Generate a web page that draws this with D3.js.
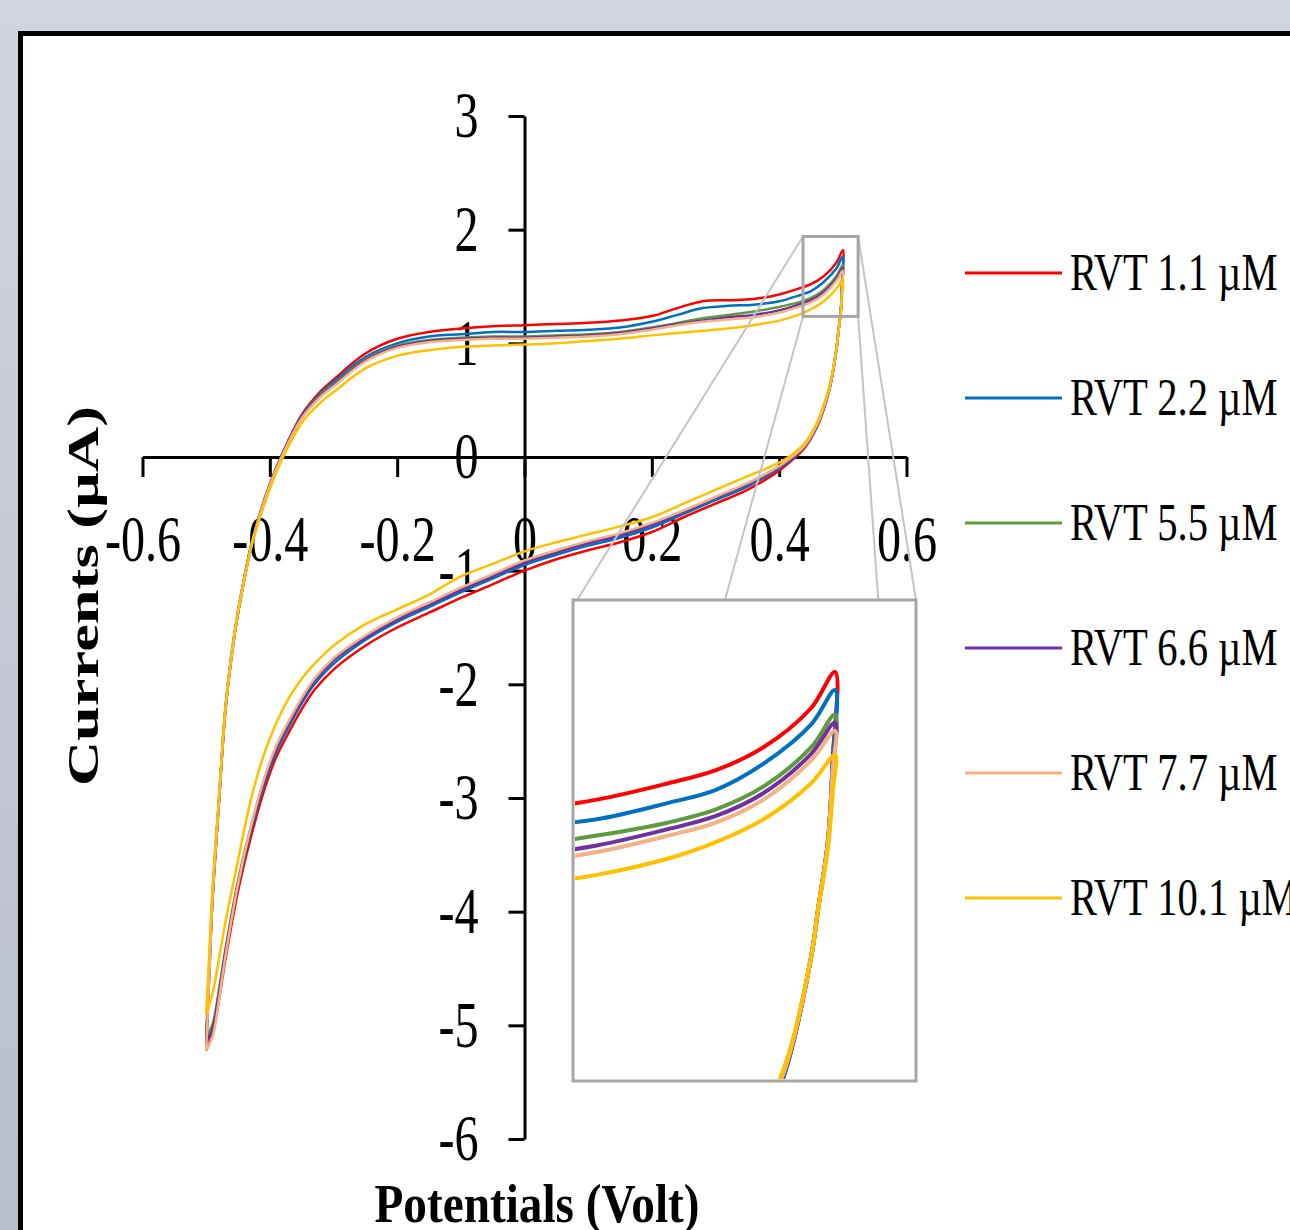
<!DOCTYPE html>
<html>
<head>
<meta charset="utf-8">
<script src="https://cdn.jsdelivr.net/npm/d3@7"></script>
<style>
html, body { margin: 0; padding: 0; overflow: hidden; background: #fff; }
svg { display: block; }
</style>
</head>
<body>
<svg id="chart" width="1290" height="1230"></svg>
<script>
// cyclic voltammograms of RVT

// potentials (V): forward sweep -0.5 -> 0.5, reverse sweep 0.5 -> -0.5
var potentialsFwd = [-0.50, -0.495, -0.49, -0.48, -0.47, -0.46, -0.45, -0.44, -0.43, -0.42,
  -0.40, -0.38, -0.35, -0.32, -0.30, -0.25, -0.20, -0.15, -0.10, -0.05,
  0, 0.05, 0.10, 0.15, 0.20, 0.24, 0.28, 0.32, 0.36, 0.40,
  0.43, 0.45, 0.47, 0.49, 0.50];
var potentialsRev = [0.499, 0.497, 0.493, 0.49, 0.48, 0.47, 0.46, 0.44, 0.42, 0.40,
  0.35, 0.30, 0.25, 0.20, 0.15, 0.10, 0.05, 0, -0.05, -0.10,
  -0.15, -0.20, -0.25, -0.30, -0.33, -0.35, -0.37, -0.39, -0.41, -0.43,
  -0.45, -0.47, -0.48, -0.49, -0.50];

// currents (uA)
var rvt11Fwd = [-5.22, -4.55, -3.90, -3.05, -2.25, -1.75, -1.38, -1.08, -0.81, -0.60,
  -0.26, 0.03, 0.37, 0.58, 0.68, 0.91, 1.04, 1.10, 1.13, 1.15,
  1.16, 1.17, 1.18, 1.20, 1.24, 1.31, 1.37, 1.38, 1.39, 1.43,
  1.48, 1.52, 1.59, 1.71, 1.82];
var rvt11Rev = [1.55, 1.30, 1.10, 0.95, 0.62, 0.42, 0.27, 0.08, -0.03, -0.12,
  -0.29, -0.41, -0.53, -0.66, -0.75, -0.82, -0.90, -1.00, -1.12, -1.24,
  -1.37, -1.50, -1.66, -1.87, -2.05, -2.22, -2.42, -2.64, -2.95, -3.35,
  -3.82, -4.43, -4.78, -5.08, -5.22];

var rvt22Fwd = [-5.15, -4.50, -3.88, -3.04, -2.24, -1.74, -1.37, -1.07, -0.80, -0.59,
  -0.25, 0.03, 0.36, 0.56, 0.66, 0.88, 1.00, 1.06, 1.08, 1.10,
  1.10, 1.11, 1.12, 1.14, 1.19, 1.25, 1.31, 1.33, 1.34, 1.37,
  1.42, 1.46, 1.54, 1.66, 1.765];
var rvt22Rev = [1.55, 1.30, 1.10, 0.95, 0.62, 0.43, 0.28, 0.09, -0.02, -0.10,
  -0.26, -0.38, -0.50, -0.62, -0.71, -0.78, -0.86, -0.95, -1.07, -1.19,
  -1.32, -1.45, -1.61, -1.82, -2.00, -2.17, -2.37, -2.59, -2.90, -3.30,
  -3.77, -4.38, -4.73, -5.03, -5.15];

var rvt55Fwd = [-5.10, -4.45, -3.85, -3.02, -2.22, -1.73, -1.36, -1.06, -0.79, -0.58,
  -0.24, 0.03, 0.35, 0.55, 0.64, 0.86, 0.98, 1.03, 1.05, 1.06,
  1.06, 1.07, 1.08, 1.10, 1.14, 1.18, 1.22, 1.25, 1.28, 1.32,
  1.36, 1.40, 1.47, 1.59, 1.69];
var rvt55Rev = [1.52, 1.30, 1.10, 0.95, 0.63, 0.44, 0.29, 0.10, -0.01, -0.09,
  -0.24, -0.36, -0.48, -0.59, -0.68, -0.75, -0.83, -0.92, -1.04, -1.16,
  -1.29, -1.42, -1.58, -1.78, -1.96, -2.13, -2.33, -2.55, -2.86, -3.26,
  -3.73, -4.34, -4.69, -4.99, -5.10];

var rvt66Fwd = [-5.15, -4.50, -3.86, -3.03, -2.23, -1.73, -1.36, -1.06, -0.79, -0.58,
  -0.24, 0.03, 0.35, 0.54, 0.63, 0.85, 0.97, 1.02, 1.04, 1.05,
  1.05, 1.06, 1.07, 1.09, 1.13, 1.17, 1.20, 1.23, 1.25, 1.29,
  1.34, 1.38, 1.45, 1.57, 1.665];
var rvt66Rev = [1.52, 1.30, 1.10, 0.95, 0.63, 0.44, 0.29, 0.10, -0.01, -0.09,
  -0.24, -0.36, -0.48, -0.60, -0.69, -0.76, -0.84, -0.93, -1.05, -1.17,
  -1.30, -1.43, -1.59, -1.79, -1.97, -2.14, -2.34, -2.56, -2.87, -3.27,
  -3.75, -4.36, -4.72, -5.03, -5.15];

var rvt77Fwd = [-5.22, -4.55, -3.88, -3.04, -2.24, -1.74, -1.37, -1.07, -0.80, -0.59,
  -0.25, 0.02, 0.34, 0.53, 0.62, 0.84, 0.96, 1.01, 1.03, 1.04,
  1.04, 1.05, 1.06, 1.08, 1.12, 1.16, 1.19, 1.21, 1.23, 1.27,
  1.32, 1.36, 1.43, 1.55, 1.64];
var rvt77Rev = [1.52, 1.30, 1.10, 0.95, 0.63, 0.44, 0.29, 0.10, 0.00, -0.08,
  -0.23, -0.35, -0.47, -0.58, -0.67, -0.74, -0.82, -0.91, -1.03, -1.15,
  -1.28, -1.41, -1.57, -1.77, -1.95, -2.12, -2.32, -2.54, -2.85, -3.26,
  -3.76, -4.40, -4.78, -5.10, -5.22];

var rvt101Fwd = [-4.90, -4.35, -3.80, -3.00, -2.22, -1.73, -1.36, -1.07, -0.81, -0.61,
  -0.28, -0.01, 0.30, 0.48, 0.57, 0.78, 0.89, 0.94, 0.97, 0.98,
  0.99, 1.00, 1.02, 1.04, 1.07, 1.09, 1.11, 1.13, 1.16, 1.20,
  1.25, 1.30, 1.37, 1.48, 1.566];
var rvt101Rev = [1.45, 1.28, 1.10, 0.95, 0.64, 0.46, 0.31, 0.12, 0.02, -0.05,
  -0.17, -0.29, -0.41, -0.53, -0.61, -0.68, -0.75, -0.83, -0.94, -1.05,
  -1.21, -1.34, -1.47, -1.66, -1.82, -1.95, -2.12, -2.34, -2.63, -3.02,
  -3.55, -4.10, -4.42, -4.72, -4.90];

var legendLabels = ['RVT 1.1 \u00b5M', 'RVT 2.2 \u00b5M', 'RVT 5.5 \u00b5M', 'RVT 6.6 \u00b5M', 'RVT 7.7 \u00b5M', 'RVT 10.1 \u00b5M'];
var fwdCurrents = [rvt11Fwd, rvt22Fwd, rvt55Fwd, rvt66Fwd, rvt77Fwd, rvt101Fwd];
var revCurrents = [rvt11Rev, rvt22Rev, rvt55Rev, rvt66Rev, rvt77Rev, rvt101Rev];
var colors = ['#ff0000', '#0070c0', '#5e9b3e', '#7030a0', '#f4b183', '#ffc000'];

var xTicks = [-0.6, -0.4, -0.2, 0, 0.2, 0.4, 0.6];
var xTickLabels = ['-0.6', '-0.4', '-0.2', '0', '0.2', '0.4', '0.6'];
var yTicks = [3, 2, 1, 0, -1, -2, -3, -4, -5, -6];
var yTickLabels = ['3', '2', '1', '0', '-1', '-2', '-3', '-4', '-5', '-6'];

// zoom window marked on the main plot, and the range shown in the inset
var zoomWinX = [0.4375, 0.524];
var zoomWinY = [1.237, 1.94];
var insetDomX = [0.39, 0.534];
var insetDomY = [0.57, 2.04];

var serif = "'Liberation Serif', 'Times New Roman', serif";

var svg = d3.select('#chart');
var width = +svg.attr('width');
var height = +svg.attr('height');

// background and frame
var defs = svg.append('defs');
var grad = defs.append('linearGradient').attr('id', 'bg')
  .attr('x1', 0).attr('y1', 0).attr('x2', 0).attr('y2', 1);
grad.append('stop').attr('offset', '0%').attr('stop-color', '#d0d5de');
grad.append('stop').attr('offset', '100%').attr('stop-color', '#b7bfcb');
svg.append('rect').attr('width', width).attr('height', height).attr('fill', 'url(#bg)');
svg.append('rect')
  .attr('x', 20.5).attr('y', 33.5)
  .attr('width', 1400).attr('height', 1400)
  .attr('fill', '#fff').attr('stroke', '#000').attr('stroke-width', 5);

var xScale = d3.scaleLinear().domain([-0.6, 0.6]).range([142.5, 906.5]);
var yScale = d3.scaleLinear().domain([-6, 3]).range([1139, 116]);

var series = legendLabels.map(function(name, i){
  var pts = potentialsFwd.map(function(e, j){ return [e, fwdCurrents[i][j]]; })
    .concat(potentialsRev.map(function(e, j){ return [e, revCurrents[i][j]]; }));
  return { name: name, color: colors[i], points: pts };
});

// squeeze text horizontally like the stretched original
function squeeze(sel, k){
  sel.each(function(){
    var w = this.getComputedTextLength();
    d3.select(this).attr('textLength', w * k).attr('lengthAdjust', 'spacingAndGlyphs');
  });
}

// axes crossing at the origin
var xAxis = d3.axisBottom(xScale)
  .tickValues(xTicks)
  .tickFormat(function(d, i){ return xTickLabels[i]; })
  .tickSizeInner(20).tickSizeOuter(0);
var gx = svg.append('g')
  .attr('transform', 'translate(0,' + yScale(0) + ')')
  .call(xAxis);
gx.attr('font-family', serif).attr('font-size', 65);
gx.select('.domain').attr('stroke-width', 3);
gx.selectAll('.tick line').attr('stroke-width', 3);
gx.selectAll('.tick text').attr('y', 104).attr('dy', 0).attr('fill', '#000').call(squeeze, 0.74);

var yAxis = d3.axisLeft(yScale)
  .tickValues(yTicks)
  .tickFormat(function(d, i){ return yTickLabels[i]; })
  .tickSizeInner(16).tickSizeOuter(0).tickPadding(30);
var gy = svg.append('g')
  .attr('transform', 'translate(' + xScale(0) + ',0)')
  .call(yAxis);
gy.attr('font-family', serif).attr('font-size', 65);
gy.select('.domain').attr('stroke-width', 3);
gy.selectAll('.tick line').attr('stroke-width', 3);
gy.selectAll('.tick text').attr('fill', '#000').call(squeeze, 0.74);

// curves
var line = d3.line()
  .x(function(d){ return xScale(d[0]); })
  .y(function(d){ return yScale(d[1]); })
  .curve(d3.curveCatmullRom.alpha(0.5));

svg.append('g').selectAll('path')
  .data(series)
  .enter()
  .append('path')
  .attr('d', function(d){ return line(d.points); })
  .attr('fill', 'none')
  .attr('stroke', function(d){ return d.color; })
  .attr('stroke-width', 2.5)
  .attr('stroke-linejoin', 'round');

// inset
var inset = { x: 573, y: 600, w: 343, h: 481 };
var ix = d3.scaleLinear().domain(insetDomX).range([inset.x, inset.x + inset.w]);
var iy = d3.scaleLinear().domain(insetDomY).range([inset.y + inset.h, inset.y]);

var win = {
  x0: xScale(zoomWinX[0]), x1: xScale(zoomWinX[1]),
  y0: yScale(zoomWinY[1]), y1: yScale(zoomWinY[0])
};

// connector lines from the marked window to the inset
var connectors = [
  [win.x0, win.y0, 0.012],
  [win.x0, win.y1, 0.443],
  [win.x1, win.y1, 0.89],
  [win.x1, win.y0, 1.0]
];
svg.append('g').selectAll('line')
  .data(connectors)
  .enter()
  .append('line')
  .attr('x1', function(d){ return d[0]; })
  .attr('y1', function(d){ return d[1]; })
  .attr('x2', function(d){ return inset.x + d[2] * inset.w; })
  .attr('y2', inset.y)
  .attr('stroke', '#c4c4c4')
  .attr('stroke-width', 2);

svg.append('rect')
  .attr('x', win.x0).attr('y', win.y0)
  .attr('width', win.x1 - win.x0).attr('height', win.y1 - win.y0)
  .attr('fill', 'none').attr('stroke', '#a6a6a6').attr('stroke-width', 3);

svg.append('rect')
  .attr('x', inset.x).attr('y', inset.y)
  .attr('width', inset.w).attr('height', inset.h)
  .attr('fill', '#fff').attr('stroke', '#a6a6a6').attr('stroke-width', 3);

defs.append('clipPath').attr('id', 'insetClip')
  .append('rect')
  .attr('x', inset.x + 2).attr('y', inset.y + 2)
  .attr('width', inset.w - 4).attr('height', inset.h - 4);

var insetLine = d3.line()
  .x(function(d){ return ix(d[0]); })
  .y(function(d){ return iy(d[1]); })
  .curve(d3.curveCatmullRom.alpha(0.5));

svg.append('g').attr('clip-path', 'url(#insetClip)')
  .selectAll('path')
  .data(series)
  .enter()
  .append('path')
  .attr('d', function(d){ return insetLine(d.points); })
  .attr('fill', 'none')
  .attr('stroke', function(d){ return d.color; })
  .attr('stroke-width', 4)
  .attr('stroke-linejoin', 'round');

// legend
var legend = svg.append('g').selectAll('g')
  .data(series)
  .enter()
  .append('g')
  .attr('transform', function(d, i){ return 'translate(0,' + (273 + i * 125) + ')'; });
legend.append('line')
  .attr('x1', 965).attr('x2', 1062)
  .attr('stroke', function(d){ return d.color; })
  .attr('stroke-width', 3);
legend.append('text')
  .attr('x', 1070).attr('y', 17)
  .attr('font-family', serif).attr('font-size', 52)
  .attr('fill', '#000')
  .text(function(d){ return d.name; })
  .call(squeeze, 0.78);

// axis titles
svg.append('text')
  .attr('transform', 'translate(98,596) rotate(-90)')
  .attr('text-anchor', 'middle')
  .attr('font-family', serif).attr('font-size', 44).attr('font-weight', 'bold')
  .attr('textLength', 380).attr('lengthAdjust', 'spacingAndGlyphs')
  .text('Currents  (\u00b5A)');

svg.append('text')
  .attr('x', 537).attr('y', 1222)
  .attr('text-anchor', 'middle')
  .attr('font-family', serif).attr('font-size', 54).attr('font-weight', 'bold')
  .attr('textLength', 325).attr('lengthAdjust', 'spacingAndGlyphs')
  .text('Potentials (Volt)');
</script>
</body>
</html>
